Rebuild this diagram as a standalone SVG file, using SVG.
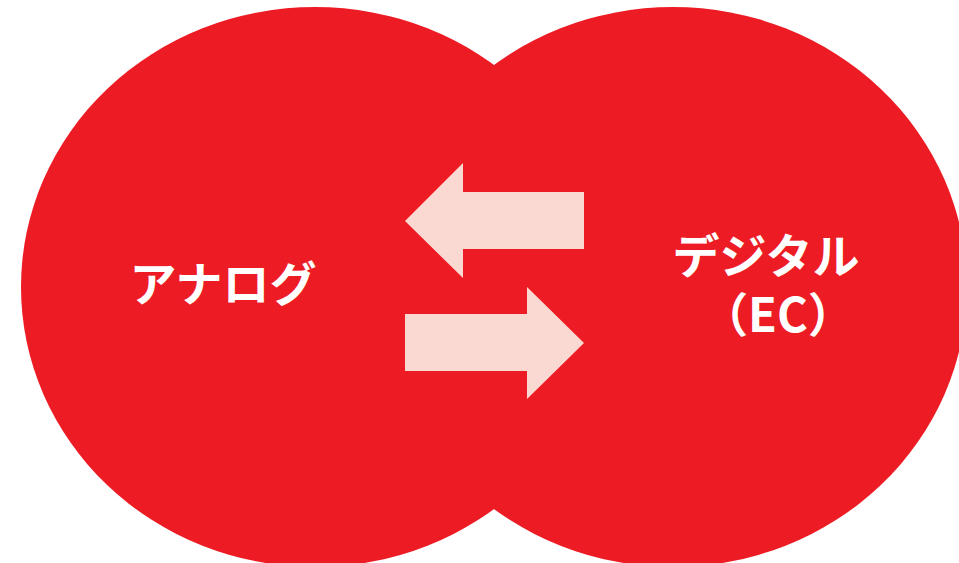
<svg xmlns="http://www.w3.org/2000/svg" width="959" height="563" viewBox="0 0 959 563">
<style>
.circle{fill:#ED1C24}
.arrow{fill:#FBD9D3}
.label{fill:#FFFFFF;font-family:"Noto Sans CJK JP","Noto Sans",sans-serif;font-weight:bold;font-size:47px;text-anchor:middle}
</style>
<rect width="959" height="563" fill="#FFFFFF"/>
<g id="analog">
<ellipse class="circle" cx="315" cy="287" rx="294" ry="280"/>
<text class="label" x="223" y="301">アナログ</text>
</g>
<g id="digital">
<ellipse class="circle" cx="673" cy="287" rx="294" ry="280"/>
<text class="label" x="766" y="273">デジタル</text>
<text class="label" x="778" y="332">（EC）</text>
</g>
<g id="connectors">
<polygon class="arrow" points="405,221 463,163 463,192 584,192 584,249 463,249 463,278"/>
<polygon class="arrow" points="405,314 527,314 527,287 584,343 527,399 527,371 405,371"/>
</g>
</svg>
